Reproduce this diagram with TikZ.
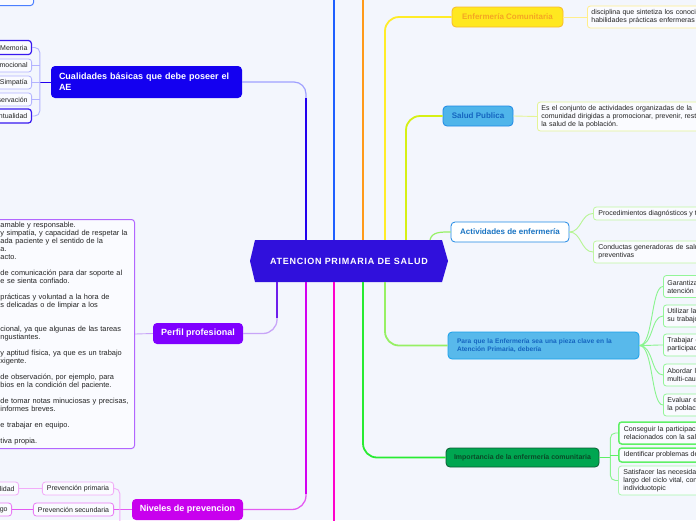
\documentclass[tikz,border=0pt]{standalone}
\usepackage{fontspec}
\setmainfont{Liberation Sans}
\newfontfamily\hexfont[LetterSpace=8]{Liberation Sans}

\definecolor{bgcol}{RGB}{243,246,253}
\definecolor{boxfill}{RGB}{250,251,255}
\definecolor{leaftext}{RGB}{35,35,35}
\definecolor{hexcol}{RGB}{48,16,220}
\definecolor{cualcol}{RGB}{20,0,240}
\definecolor{perfcol}{RGB}{127,0,255}
\definecolor{nivcol}{RGB}{200,0,238}
\definecolor{ecfill}{RGB}{255,232,31}
\definecolor{ecdraw}{RGB}{247,185,43}
\definecolor{ectext}{RGB}{245,166,35}
\definecolor{ecline}{RGB}{255,238,140}
\definecolor{spfill}{RGB}{79,181,234}
\definecolor{spdraw}{RGB}{30,136,229}
\definecolor{sptext}{RGB}{21,101,192}
\definecolor{spline}{RGB}{228,244,150}
\definecolor{imfill}{RGB}{0,166,81}
\definecolor{imdraw}{RGB}{11,92,50}
\definecolor{imtext}{RGB}{10,74,40}
% connector colours
\definecolor{lndark}{RGB}{34,0,238}
\definecolor{lncual}{RGB}{160,160,255}
\definecolor{lnblue}{RGB}{30,95,255}
\definecolor{lnorange}{RGB}{255,154,26}
\definecolor{lnyellow}{RGB}{255,236,40}
\definecolor{lnlime}{RGB}{214,240,20}
\definecolor{lnlgreen}{RGB}{150,240,100}
\definecolor{lngreen}{RGB}{40,235,50}
\definecolor{lnpink}{RGB}{255,0,204}
\definecolor{lnmag}{RGB}{210,0,240}
\definecolor{lnmaglight}{RGB}{228,90,242}
\definecolor{lnpurple}{RGB}{110,30,235}
\definecolor{lnperf}{RGB}{200,165,248}

\begin{document}
\begin{tikzpicture}[x=1pt,y=-1pt,
  every node/.style={font=\fontsize{7}{8}\selectfont},
  leafbox/.style={draw, rounded corners=3pt, fill=boxfill, text=leaftext, inner ysep=0pt, inner xsep=4pt, line width=0.8pt},
  topicbox/.style={rounded corners=4pt, inner sep=0pt, line width=0.8pt, font=\bfseries\fontsize{8}{9}\selectfont},
  mainbox/.style={rounded corners=4pt, inner sep=0pt, text=white, font=\bfseries\fontsize{9}{11}\selectfont},
  link/.style={line width=0.9pt},
  branch/.style={line width=1.8pt}]
\useasboundingbox (0,0) rectangle (696,520);
\clip (0,0) rectangle (696,520);
\fill[bgcol] (0,0) rectangle (696,520);

% centre
\fill[hexcol] (250,261) -- (255,240) -- (442,240) -- (448,261) -- (442,282) -- (255,282) -- cycle;
\node (aps) [minimum width=198, minimum height=42, inner sep=0pt, text=white, font=\hexfont\bfseries\fontsize{9}{10}\selectfont] at (349,261) {ATENCION PRIMARIA DE SALUD};

% right side
\node (ec) [topicbox, fill=ecfill, draw=ecdraw, text=ectext, minimum width=111, minimum height=20] at (507.5,17) {Enfermería Comunitaria};
\node (ecd) [leafbox, draw=ecline, anchor=west, minimum height=22, text width=200, align=left] at (587,17) {disciplina que sintetiza los conocimientos teóricos y las\\habilidades prácticas enfermeras y de salud pública};
\node (sp) [topicbox, fill=spfill, draw=spdraw, text=sptext, minimum width=70, minimum height=20] at (478,116) {Salud Publica};
\node (spd) [leafbox, draw=spline, anchor=west, minimum height=29, text width=200, align=left] at (537,116.5) {Es el conjunto de actividades organizadas de la\\comunidad dirigidas a promocionar, prevenir, restablecer\\la salud de la población.};
\node (ae) [topicbox, fill=white, draw=spdraw, text=spdraw!85!black, minimum width=118, minimum height=20] at (510,232) {Actividades de enfermería};
\node (ae1) [leafbox, draw=lnlgreen!60, anchor=west, minimum height=13, inner xsep=5pt] at (593,213.5) {Procedimientos diagnósticos y terapéuticos};
\node (ae2) [leafbox, draw=lnlgreen!60, anchor=west, minimum height=22, inner xsep=5pt, text width=200, align=left] at (593,252) {Conductas generadoras de salud: actividades\\preventivas};
\node (pq) [topicbox, fill=spfill!95!white, draw=spdraw!80!cyan, text=sptext, minimum width=191, minimum height=27, inner xsep=9pt, text width=173, align=left, font=\bfseries\fontsize{6.6}{8}\selectfont] at (543.5,345.5) {Para que la Enfermería sea una pieza clave en la\\Atención Primaria, debería};
\foreach \n/\y/\txt in {1/286.5/{Garantizar la equidad en la\\atención sanitaria},
                        2/316/{Utilizar la evidencia científica en\\su trabajo},
                        3/345/{Trabajar en equipo fomentando la\\participación comunitaria},
                        4/375/{Abordar los problemas de salud\\multi-causales},
                        5/405/{Evaluar el estado de salud de\\la población}}
  \node (pq\n) [leafbox, draw=lngreen!50, anchor=west, minimum height=22, text width=120, align=left] at (663,\y) {\txt};
\node (im) [topicbox, fill=imfill, draw=imdraw, text=imtext, minimum width=153, minimum height=19, font=\bfseries\fontsize{7}{8}\selectfont] at (522.5,457.5) {Importancia de la enfermería comunitaria};
\node (im1) [leafbox, draw=lngreen!75, line width=1.5pt, anchor=west, minimum height=22, inner xsep=5pt, text width=200, align=left] at (618,433) {Conseguir la participación de la comunidad en los asuntos\\relacionados con la salud};
\node (im2) [leafbox, draw=lngreen!75, line width=1.5pt, anchor=west, minimum height=14, inner xsep=5pt] at (618,455) {Identificar problemas de salud de la comunidad};
\node (im3) [leafbox, draw=lngreen!40, anchor=west, minimum height=29, inner xsep=5pt, text width=200, align=left] at (618,480.5) {Satisfacer las necesidades de salud a lo\\largo del ciclo vital, con enfoque familiar e\\individuotopic};

% left side
\node (tl) [leafbox, draw=lnblue!80, line width=1pt, anchor=south east, minimum width=80, minimum height=40] at (34,6) {};
\node (cb) [mainbox, fill=cualcol, minimum width=191, minimum height=32, inner xsep=8pt, text width=175, align=left] at (146.5,82) {Cualidades básicas que debe poseer el\\AE};
\node (cb1) [leafbox, draw=lndark!90, line width=1.2pt, anchor=east, minimum height=14] at (32,47.5) {Memoria};
\node (cb2) [leafbox, draw=lncual!80, anchor=east, minimum height=13] at (32,65.5) {Equilibrio emocional};
\node (cb3) [leafbox, draw=lncual!80, anchor=east, minimum height=13] at (32,82.5) {Simpatía};
\node (cb4) [leafbox, draw=lncual!80, anchor=east, minimum height=13] at (32,99.5) {Observación};
\node (cb5) [leafbox, draw=lndark!90, line width=1.2pt, anchor=east, minimum height=14] at (32,116) {Puntualidad};
\node (pp) [mainbox, fill=perfcol, minimum width=90, minimum height=21] at (198,333.5) {Perfil profesional};
\node (ppd) [leafbox, draw=perfcol!60, line width=1pt, anchor=north east, minimum height=229, text width=130, align=left, font=\fontsize{7.4}{8}\selectfont] at (135,219) {amable y responsable.\\
y simpatía, y capacidad de respetar la\\
ada paciente y el sentido de la\\
a.\\
acto.\\[8pt]
de comunicación para dar soporte al\\
e se sienta confiado.\\[8pt]
prácticas y voluntad a la hora de\\
s delicadas o de limpiar a los\\[16pt]
cional, ya que algunas de las tareas\\
ngustiantes.\\[8pt]
y aptitud física, ya que es un trabajo\\
xigente.\\[8pt]
de observación, por ejemplo, para\\
bios en la condición del paciente.\\[8pt]
de tomar notas minuciosas y precisas,\\
informes breves.\\[8pt]
e trabajar en equipo.\\[8pt]
tiva propia.};
\node (nv) [mainbox, fill=nivcol, minimum width=111, minimum height=21] at (187.5,509.5) {Niveles de prevencion};
\node (nv1) [leafbox, draw=lnmaglight!50, anchor=east, minimum height=13, inner xsep=4.5pt] at (114,488.5) {Prevención primaria};
\node (nv2) [leafbox, draw=lnmaglight!80, anchor=east, minimum height=13, inner xsep=4.5pt] at (114,509.5) {Prevención secundaria};
\node (nv11) [leafbox, draw=lnmaglight!50, anchor=east, minimum height=13] at (19,488.5) {Reducir la morbilidad};
\node (nv21) [leafbox, draw=lnmaglight!80, anchor=east, minimum height=13] at (12,509.5) {Reducir el riesgo};

% branches from the centre
\draw[branch, lnblue] ([xshift=-15pt]aps.north) -- ++(0,-250);
\draw[branch, lnorange] ([xshift=14pt]aps.north) -- ++(0,-250);
\draw[branch, lnpink] ([xshift=-15pt]aps.south) -- ++(0,250);
\draw[link, line width=1.2pt, lncual, rounded corners=12pt] ([xshift=-43pt]aps.north) |- (cb.east);
\draw[branch, lndark] ([xshift=-43pt]aps.north) -- ++(0,-142);
\draw[branch, lnyellow, rounded corners=14pt] ([xshift=36pt]aps.north) |- (ec.west);
\draw[branch, lnlime, rounded corners=14pt] ([xshift=57pt]aps.north) |- (sp.west);
\draw[link, line width=1.2pt, lnlgreen] ([xshift=81pt]aps.north) .. controls +(2,-8) and +(-10,0) .. (ae.west);
\draw[link, line width=1.3pt, lnperf, rounded corners=14pt] ([xshift=-72pt]aps.south) |- (pp.east);
\draw[branch, lnpurple] ([xshift=-72pt]aps.south) -- ++(0,36);
\draw[link, line width=1.3pt, lnmaglight, rounded corners=14pt] ([xshift=-43pt]aps.south) |- (nv.east);
\draw[branch, lnmag] ([xshift=-43pt]aps.south) -- ++(0,212);
\draw[branch, lngreen, rounded corners=14pt] ([xshift=14pt]aps.south) |- (im.west);
\draw[branch, lnlgreen, rounded corners=14pt] ([xshift=36pt]aps.south) |- (pq.west);

% sub-topics
\draw[link, ecline] (ec.east) -- (ecd.west);
\draw[link, spline] (sp.east) -- (spd.west);
\foreach \n in {1,2}
  \draw[link, lnlgreen!70] (ae.east) .. controls +(12,0) and +(-12,0) .. (ae\n.west);
\foreach \n in {1,...,5}
  \draw[link, lngreen!55] (pq.east) .. controls +(14,0) and +(-12,0) .. (pq\n.west);
\coordinate (imfork) at ([xshift=11pt]im.east);
\draw[link, lngreen!75] (im.east) -- (imfork);
\draw[link, lngreen!55, rounded corners=5pt] (im1.west) -| (imfork) |- (im3.west);
\draw[link, lngreen!75] (im2.west) -- (im2.west -| imfork);
\coordinate (cbfork) at ([xshift=-11pt]cb.west);
\draw[link, lndark] (cb.west) -- (cbfork);
\draw[link, lncual!80, rounded corners=5pt] (cb1.east) -| (cbfork) |- (cb5.east);
\foreach \n in {2,3,4}
  \draw[link, lncual!80] (cb\n.east) -- (cb\n.east -| cbfork);
\draw[link, lnperf] (pp.west) -- (ppd.east);
\coordinate (nvfork) at ([xshift=-12pt]nv.west);
\draw[link, lnmaglight] (nv.west) -- (nv2.east);
\draw[link, lnmaglight!50, rounded corners=5pt] (nv1.east) -| (nvfork) -- ++(0,30);
\draw[link, lnmaglight!50] (nv1.west) -- (nv11.east);
\draw[link, lnmaglight] (nv2.west) -- (nv21.east);
\end{tikzpicture}
\end{document}
